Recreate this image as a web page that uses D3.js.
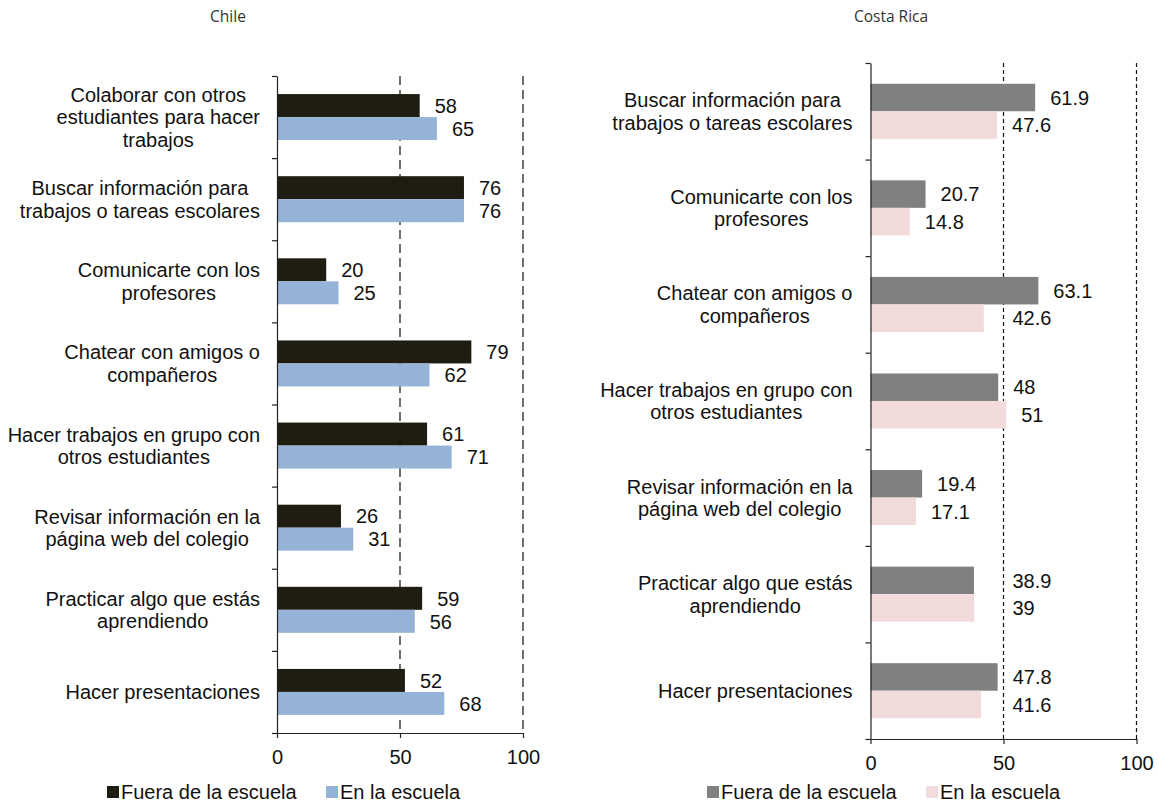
<!DOCTYPE html>
<html>
<head>
<meta charset="utf-8">
<script src="https://cdn.jsdelivr.net/npm/d3@7/dist/d3.min.js"></script>
<style>
  body { margin: 0; background: #fff; }
  svg { display: block; }
</style>
</head>
<body>
<svg id="chart" width="1158" height="804"></svg>
<script>
// ---------- DATA ----------
const seriesNames = ["Fuera de la escuela", "En la escuela"];
const tickValues = [0, 50, 100];

const chileCategories = [
  ["Colaborar con otros", "estudiantes para hacer", "trabajos"],
  ["Buscar información para", "trabajos o tareas escolares"],
  ["Comunicarte con los", "profesores"],
  ["Chatear con amigos o", "compañeros"],
  ["Hacer trabajos en grupo con", "otros estudiantes"],
  ["Revisar información en la", "página web del colegio"],
  ["Practicar algo que estás", "aprendiendo"],
  ["Hacer presentaciones"]
];
const chileFuera = [58, 76, 20, 79, 61, 26, 59, 52];
const chileEn    = [65, 76, 25, 62, 71, 31, 56, 68];

const crCategories = [
  ["Buscar información para", "trabajos o tareas escolares"],
  ["Comunicarte con los", "profesores"],
  ["Chatear con amigos o", "compañeros"],
  ["Hacer trabajos en grupo con", "otros estudiantes"],
  ["Revisar información en la", "página web del colegio"],
  ["Practicar algo que estás", "aprendiendo"],
  ["Hacer presentaciones"]
];
const crFuera = [61.9, 20.7, 63.1, 48, 19.4, 38.9, 47.8];
const crEn    = [47.6, 14.8, 42.6, 51, 17.1, 39, 41.6];

// ---------- DRAW ----------
const svg = d3.select("#chart");
const FONT = "'Liberation Sans', Arial, sans-serif";
const FS = 20;

function panel(cfg) {
  const g = svg.append("g");
  const n = cfg.categories.length;
  const x = d3.scaleLinear().domain([0, 100]).range([cfg.x0, cfg.x1]);
  const yIdx = d3.scaleLinear().domain([0, n]).range([cfg.top, cfg.bottom]);
  const band = d3.scaleBand().domain(d3.range(n)).range([cfg.top, cfg.bottom]);
  const bw = band.bandwidth();
  const barH = bw * cfg.barRatio;

  // title
  g.append("text")
    .attr("x", cfg.titleX).attr("y", 22)
    .attr("text-anchor", "middle")
    .attr("font-family", "'Open Sans', 'Noto Sans', sans-serif")
    .attr("font-size", 15.5).attr("fill", "#333")
    .text(cfg.title);

  // gridlines
  g.selectAll(".grid").data(tickValues.filter(v => v > 0)).enter()
    .append("line")
    .attr("x1", d => x(d)).attr("x2", d => x(d))
    .attr("y1", cfg.top).attr("y2", cfg.bottom)
    .attr("stroke", "#111").attr("stroke-width", 1.2)
    .attr("stroke-dasharray", cfg.dash);

  // bars
  const rows = cfg.categories.map((c, i) => ({ i, vals: [cfg.a[i], cfg.b[i]] }));
  rows.forEach(r => {
    const cy = band(r.i) + bw / 2;
    r.vals.forEach((v, k) => {
      const yTop = cy - barH + k * barH;
      g.append("rect")
        .attr("x", x(0)).attr("y", yTop)
        .attr("width", x(v) - x(0)).attr("height", barH)
        .attr("fill", cfg.colors[k]);
    });
  });

  // y axis (category boundaries)
  const yAxis = d3.axisLeft(yIdx).tickValues(d3.range(n + 1)).tickFormat("")
    .tickSize(5).tickSizeOuter(0);
  const ya = g.append("g").attr("transform", `translate(${x(0)},0)`).call(yAxis);
  ya.select(".domain").attr("stroke", "#222").attr("stroke-width", 1.2);
  ya.selectAll(".tick line").attr("stroke", "#222").attr("stroke-width", 1.2);

  // x axis
  const xAxis = d3.axisBottom(x).tickValues(tickValues).tickSize(5).tickSizeOuter(0).tickPadding(12);
  const xa = g.append("g").attr("transform", `translate(0,${cfg.bottom})`).call(xAxis);
  xa.select(".domain").attr("stroke", "#222").attr("stroke-width", 1.2);
  xa.selectAll(".tick line").attr("stroke", "#222").attr("stroke-width", 1.2);
  xa.selectAll(".tick text").attr("font-family", FONT).attr("font-size", FS).attr("fill", "#111");

  // value labels
  const gridXs = tickValues.filter(v => v > 0).map(v => x(v));
  rows.forEach(r => {
    const cy = band(r.i) + bw / 2;
    r.vals.forEach((v, k) => {
      const ly = cy - barH / 2 + k * barH;
      const t = g.append("text")
        .attr("y", ly).attr("dy", "0.36em")
        .attr("font-family", FONT).attr("font-size", FS).attr("fill", "#111")
        .text(String(v));
      let lx = x(v) + 15;
      const w = t.node().getComputedTextLength();
      gridXs.forEach(gx => { if (lx < gx && lx + w > gx - 2) lx = gx + 9; });
      t.attr("x", lx);
    });
  });

  // category labels (block right aligned, lines centred within block)
  const lineH = 22.5;
  cfg.categories.forEach((lines, i) => {
    const cy = band(i) + bw / 2;
    const t = g.append("text")
      .attr("font-family", FONT).attr("font-size", FS).attr("fill", "#111")
      .attr("text-anchor", "middle");
    const spans = lines.map((ln, j) => t.append("tspan")
      .attr("y", cy + (j - (lines.length - 1) / 2) * lineH)
      .attr("dy", "0.36em").text(ln));
    const widths = spans.map(s => s.node().getComputedTextLength());
    const maxW = d3.max(widths);
    const center = x(0) - cfg.labelGap - maxW / 2;
    spans.forEach(s => s.attr("x", center));
  });

  // legend
  const lg = g.append("g");
  seriesNames.forEach((name, k) => {
    const lx = cfg.legendX[k];
    lg.append("rect").attr("x", lx).attr("y", 786).attr("width", 12).attr("height", 12)
      .attr("fill", cfg.colors[k]);
    lg.append("text").attr("x", lx + 14).attr("y", 799)
      .attr("font-family", FONT).attr("font-size", FS).attr("fill", "#111")
      .text(name);
  });
}

panel({
  title: "Chile", titleX: 228,
  categories: chileCategories, a: chileFuera, b: chileEn,
  x0: 277, x1: 523, top: 76, bottom: 733,
  barRatio: 0.28, dash: "9,5", labelGap: 17,
  colors: ["#1f1d12", "#95b3d7"],
  legendX: [107, 326]
});

panel({
  title: "Costa Rica", titleX: 891,
  categories: crCategories, a: crFuera, b: crEn,
  x0: 870.5, x1: 1136.5, top: 63, bottom: 739,
  barRatio: 0.285, dash: "4,3", labelGap: 18,
  colors: ["#808080", "#f2dcdb"],
  legendX: [707, 926]
});
</script>
</body>
</html>
